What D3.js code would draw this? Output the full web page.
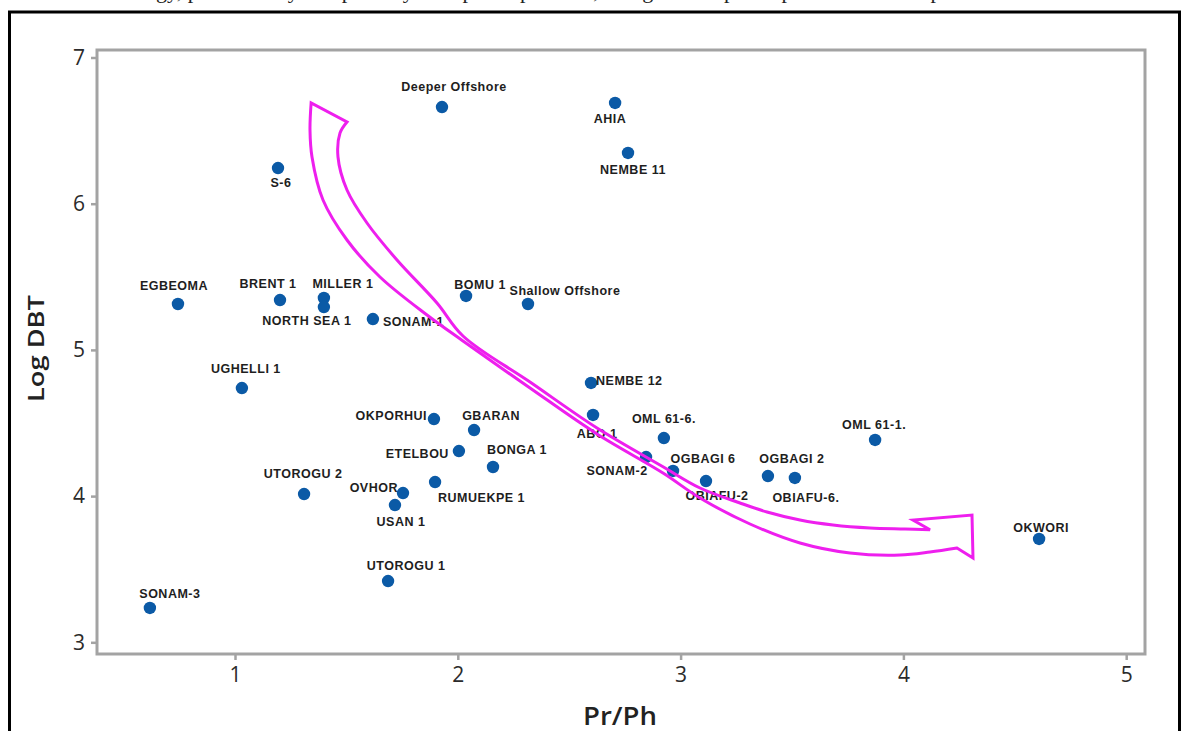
<!DOCTYPE html>
<html><head><meta charset="utf-8">
<script src="https://cdn.jsdelivr.net/npm/d3@7/dist/d3.min.js"></script>
<style>body{margin:0;background:#fff;overflow:hidden} svg{display:block}</style>
</head><body><svg id="c" width="1183" height="731"></svg>
<script>
// ---- data ----
const names = ["Deeper Offshore","AHIA","NEMBE 11","S-6","EGBEOMA","BRENT 1","MILLER 1","NORTH SEA 1","SONAM-1","BOMU 1","Shallow Offshore","UGHELLI 1","OKPORHUI","GBARAN","ETELBOU","BONGA 1","UTOROGU 2","OVHOR","USAN 1","RUMUEKPE 1","UTOROGU 1","SONAM-3","NEMBE 12","ABO 1","OML 61-6.","SONAM-2","OGBAGI 6","OBIAFU-2","OGBAGI 2","OBIAFU-6.","OML 61-1.","OKWORI"];
const prph   = [1.929,2.706,2.764,1.193,0.744,1.202,1.399,1.399,1.619,2.037,2.315,1.031,1.893,2.073,2.005,2.158,1.310,1.754,1.718,1.898,1.687,0.618,2.598,2.607,2.925,2.845,2.966,3.114,3.392,3.513,3.873,4.609];
const logDbt = [6.661,6.689,6.347,6.244,5.314,5.341,5.355,5.293,5.211,5.369,5.314,4.739,4.527,4.452,4.308,4.199,4.014,4.021,3.939,4.096,3.419,3.235,4.774,4.555,4.397,4.267,4.172,4.103,4.137,4.124,4.384,3.707];
const xTicks = [1,2,3,4,5];
const yTicks = [3,4,5,6,7];
const xTitle = "Pr/Ph";
const yTitle = "Log DBT";
const headerText = "ology, permeability and porosity to depth of pressure, along with depth of pressure and temperature";

// trend arrow outline (data units)
const arrowInner = [[1.5027,6.5588],[1.4713,6.4836],[1.4623,6.3194],[1.5027,6.0937],[1.5925,5.8680],[1.7271,5.6149],[1.9066,5.3208],[2.0233,5.0951],[2.3241,4.7805],[2.6248,4.4658],[2.9210,4.2009],[3.0871,4.0554],[3.2666,3.9528],[3.3878,3.8912],[3.5359,3.8365],[3.6840,3.8023],[3.8501,3.7818],[4.0072,3.7750],[4.1194,3.7700]];
const arrowHead  = [[4.1194,3.7700],[4.0431,3.8365],[4.3079,3.8707],[4.3124,3.5766],[4.2406,3.6450]];
const arrowOuter = [[4.2406,3.6450],[4.1194,3.6176],[3.9847,3.5971],[3.7603,3.6108],[3.5359,3.6792],[3.3115,3.8092],[3.0871,3.9870],[2.9210,4.1580],[2.6248,4.4248],[2.3241,4.7394],[2.0233,5.0609],[1.8618,5.2387],[1.6508,5.4986],[1.5027,5.7517],[1.3950,6.0253],[1.3456,6.3194],[1.3366,6.5041],[1.3416,6.6888]];

// ---- label placement (pixel offsets from point: dx, dy of text centre, anchor) ----
const labelPlacement = {
 "Deeper Offshore":[12,-21,"middle"],"AHIA":[-5,15,"middle"],"NEMBE 11":[5,16,"middle"],"S-6":[3,14,"middle"],
 "EGBEOMA":[-4,-19,"middle"],"BRENT 1":[-12,-17,"middle"],"MILLER 1":[19,-15,"middle"],"NORTH SEA 1":[-17,13,"middle"],
 "SONAM-1":[10,2,"start"],"BOMU 1":[14,-12,"middle"],"Shallow Offshore":[37,-14,"middle"],"UGHELLI 1":[4,-20,"middle"],
 "OKPORHUI":[-7,-4,"end"],"GBARAN":[17,-15,"middle"],"ETELBOU":[-10,2,"end"],"BONGA 1":[24,-18,"middle"],
 "UTOROGU 2":[-1,-21,"middle"],"OVHOR":[-5,-6,"end"],"USAN 1":[6,16,"middle"],"RUMUEKPE 1":[3,15,"start"],
 "UTOROGU 1":[18,-16,"middle"],"SONAM-3":[20,-15,"middle"],"NEMBE 12":[5,-3,"start"],"ABO 1":[4,18,"middle"],
 "OML 61-6.":[0,-20,"middle"],"SONAM-2":[-29,13,"middle"],"OGBAGI 6":[30,-13,"middle"],"OBIAFU-2":[11,14,"middle"],
 "OGBAGI 2":[24,-18,"middle"],"OBIAFU-6.":[11,19,"middle"],"OML 61-1.":[-1,-16,"middle"],"OKWORI":[2,-12,"middle"]
};

const svg = d3.select("#c");
const L = 97, R = 1145, T = 50, B = 654;
const x = d3.scaleLinear().domain([0.3806, 5.0844]).range([L, R]);
const y = d3.scaleLinear().domain([2.920, 7.0513]).range([B, T]);

// header text (cut off at top, as in the source page)
svg.append("text").attr("x", 128).attr("y", -2)
  .attr("font-family", "Liberation Serif, serif").attr("font-size", 22).attr("fill", "#222")
  .text(headerText);

// outer black frame
svg.append("rect").attr("x", 9.5).attr("y", 12).attr("width", 1170).attr("height", 800)
  .attr("fill", "#fff").attr("stroke", "#000").attr("stroke-width", 3);

// axes
const gx = svg.append("g").attr("transform", `translate(0,${B})`)
  .call(d3.axisBottom(x).tickValues(xTicks).tickFormat(d3.format("d")).tickSize(6).tickPadding(7));
const gy = svg.append("g").attr("transform", `translate(${L},0)`)
  .call(d3.axisLeft(y).tickValues(yTicks).tickFormat(d3.format("d")).tickSize(6).tickPadding(6));
[gx, gy].forEach(g => {
  g.select(".domain").remove();
  g.selectAll(".tick line").attr("stroke", "#a3a3a3").attr("stroke-width", 2.5);
  g.selectAll(".tick text").attr("font-family", "Open Sans, sans-serif").attr("font-size", 21).attr("fill", "#2b2b2b");
});

// plot frame
svg.append("rect").attr("x", L).attr("y", T).attr("width", R - L).attr("height", B - T)
  .attr("fill", "none").attr("stroke", "#a3a3a3").attr("stroke-width", 3);

// axis titles
svg.append("text").attr("transform", `translate(44,${348.5}) rotate(-90)`)
  .attr("text-anchor", "middle").attr("font-family", "Open Sans, sans-serif").attr("font-weight", 600)
  .attr("font-size", 22).attr("fill", "#222").attr("textLength", 107).attr("lengthAdjust", "spacingAndGlyphs")
  .text(yTitle);
svg.append("text").attr("x", 620).attr("y", 725)
  .attr("text-anchor", "middle").attr("font-family", "Open Sans, sans-serif").attr("font-weight", 600)
  .attr("font-size", 25).attr("fill", "#222").attr("textLength", 74).attr("lengthAdjust", "spacingAndGlyphs")
  .text(xTitle);

// points
const pts = names.map((n, i) => ({name: n, x: prph[i], y: logDbt[i]}));
svg.append("g").selectAll("circle").data(pts).join("circle")
  .attr("cx", d => x(d.x)).attr("cy", d => y(d.y)).attr("r", 6.2).attr("fill", "#0b5aa6");

// labels
svg.append("g").selectAll("text").data(pts).join("text")
  .attr("x", d => x(d.x) + labelPlacement[d.name][0])
  .attr("y", d => y(d.y) + labelPlacement[d.name][1] + 4.7)
  .attr("text-anchor", d => labelPlacement[d.name][2])
  .attr("font-family", "Liberation Sans, Arial, sans-serif").attr("font-weight", "bold")
  .attr("font-size", 12.5).attr("letter-spacing", 0.5).attr("fill", "#1e1e1e")
  .text(d => d.name);

// trend arrow
const lineC = d3.line().x(d => x(d[0])).y(d => y(d[1])).curve(d3.curveCatmullRom.alpha(0.5));
const lineL = d3.line().x(d => x(d[0])).y(d => y(d[1]));
const arrowD = lineC(arrowInner) + lineL(arrowHead).replace(/^M/, "L") + lineC(arrowOuter).replace(/^M/, "L") + "Z";
svg.append("path").attr("d", arrowD).attr("fill", "none").attr("stroke", "#ee1fee")
  .attr("stroke-width", 3).attr("stroke-linejoin", "miter");
</script>
</body></html>
